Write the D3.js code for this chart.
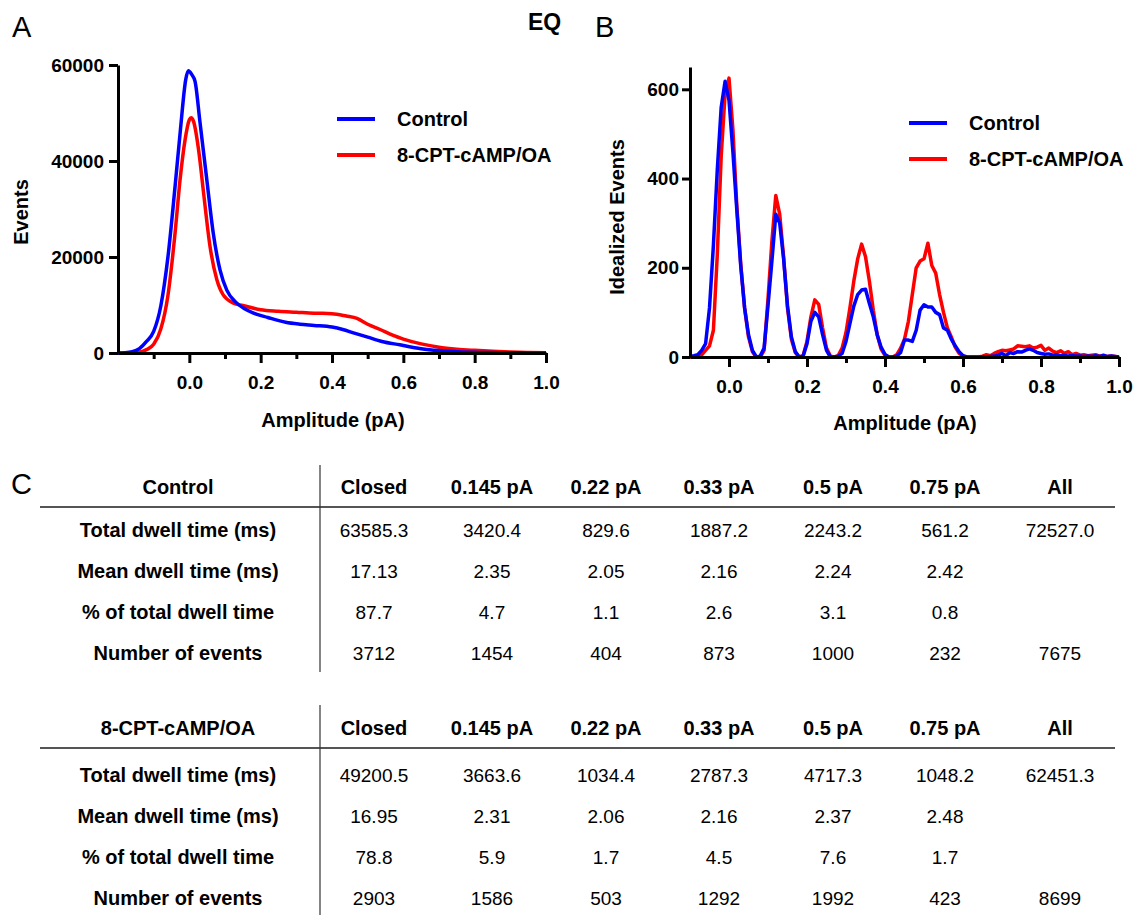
<!DOCTYPE html>
<html>
<head>
<meta charset="utf-8">
<script src="https://cdn.jsdelivr.net/npm/d3@7"></script>
<style>
  body { margin: 0; background: #fff; }
  svg { font-family: "Liberation Sans", Arial, sans-serif; display: block; }
</style>
</head>
<body>
<svg id="fig" width="1138" height="915"></svg>
<script>
// ---- Panel A: all-points amplitude histogram (amplitude pA, events) ----
const ampA_control = [-0.20, -0.18, -0.16, -0.14, -0.12, -0.10, -0.08, -0.06, -0.04, -0.025, -0.01, -0.003, 0.007, 0.016, 0.03, 0.049, 0.067, 0.086, 0.105, 0.13, 0.155, 0.18, 0.22, 0.27, 0.31, 0.35, 0.40, 0.43, 0.46, 0.50, 0.54, 0.59, 0.65, 0.70, 0.75, 0.80, 0.85, 0.90, 0.95, 1.0];
const eventsA_control = [0, 50, 250, 900, 2400, 4500, 9800, 20000, 34700, 46500, 57000, 58800, 58000, 56600, 48000, 36100, 25000, 17300, 13100, 10600, 9200, 8300, 7400, 6400, 6000, 5750, 5400, 4900, 4200, 3300, 2400, 1700, 900, 500, 250, 150, 80, 40, 20, 10];

const ampA_treated = [-0.20, -0.16, -0.14, -0.12, -0.10, -0.08, -0.06, -0.04, -0.026, -0.012, 0.0, 0.005, 0.012, 0.026, 0.04, 0.058, 0.077, 0.095, 0.124, 0.15, 0.20, 0.25, 0.30, 0.35, 0.40, 0.44, 0.47, 0.50, 0.535, 0.57, 0.60, 0.65, 0.70, 0.75, 0.80, 0.85, 0.90, 0.95, 1.0];
const eventsA_treated = [0, 0, 150, 700, 1800, 5000, 12000, 25000, 36100, 44400, 48600, 49000, 48200, 42300, 33300, 22200, 15300, 12100, 10400, 9900, 9000, 8700, 8500, 8300, 8200, 7700, 7200, 6000, 4900, 3700, 2900, 1900, 1200, 800, 550, 350, 200, 100, 50];

// ---- Panel B: idealized amplitude histogram, 0.01 pA bins ----
const binsB = [-0.10, -0.09, -0.08, -0.07, -0.06, -0.05, -0.04, -0.03, -0.02, -0.01,
  0.00, 0.01, 0.02, 0.03, 0.04, 0.05, 0.06, 0.07, 0.08, 0.09,
  0.10, 0.11, 0.12, 0.13, 0.14, 0.15, 0.16, 0.17, 0.18, 0.19,
  0.20, 0.21, 0.22, 0.23, 0.24, 0.25, 0.26, 0.27, 0.28, 0.29,
  0.30, 0.31, 0.32, 0.33, 0.34, 0.35, 0.36, 0.37, 0.38, 0.39,
  0.40, 0.41, 0.42, 0.43, 0.44, 0.45, 0.46, 0.47, 0.48, 0.49,
  0.50, 0.51, 0.52, 0.53, 0.54, 0.55, 0.56, 0.57, 0.58, 0.59,
  0.60, 0.61, 0.62, 0.63, 0.64, 0.65, 0.66, 0.67, 0.68, 0.69,
  0.70, 0.71, 0.72, 0.73, 0.74, 0.75, 0.76, 0.77, 0.78, 0.79,
  0.80, 0.81, 0.82, 0.83, 0.84, 0.85, 0.86, 0.87, 0.88, 0.89,
  0.90, 0.91, 0.92, 0.93, 0.94, 0.95, 0.96, 0.97, 0.98, 0.99, 1.00];

const idealB_control = [2, 3, 5, 15, 30, 110, 250, 420, 560, 618,
  575, 460, 330, 205, 110, 50, 15, 0, 2, 20,
  115, 215, 320, 300, 220, 115, 45, 12, 0, 2,
  30, 80, 100, 90, 50, 15, 0, 0, 2, 8,
  35, 75, 114, 140, 150, 152, 120, 90, 50, 22,
  6, 0, 0, 2, 10, 38, 38, 35, 60, 105,
  117, 112, 112, 100, 95, 65, 60, 40, 25, 12,
  3, 0, 0, 0, 0, 0, 0, 1, 2, 4,
  8, 3, 10, 8, 12, 11, 15, 18, 15, 10,
  8, 6, 7, 4, 5, 3, 4, 2, 3, 2,
  2, 1, 2, 1, 3, 1, 4, 1, 2, 1, 0];

const idealB_treated = [0, 0, 0, 5, 15, 25, 60, 230, 450, 590,
  625, 510, 340, 210, 110, 45, 12, 0, 0, 15,
  130, 260, 362, 320, 225, 110, 40, 10, 0, 3,
  35, 90, 128, 118, 65, 20, 2, 0, 3, 20,
  55, 110, 170, 220, 253, 225, 170, 105, 50, 18,
  4, 0, 0, 5, 20, 40, 80, 140, 200, 215,
  220, 255, 205, 188, 140, 100, 65, 45, 22, 8,
  2, 0, 0, 0, 0, 2, 5, 3, 8, 12,
  15, 14, 16, 18, 25, 24, 23, 25, 20, 22,
  26, 15, 20, 13, 10, 14, 8, 12, 5, 8,
  4, 5, 3, 4, 5, 2, 3, 1, 2, 1, 0];

const seriesNames = ["Control", "8-CPT-cAMP/OA"];
const seriesColors = ["#0000ff", "#ff0000"];

// ---- Panel C: dwell time tables ----
const tableColumns = ["Closed", "0.145 pA", "0.22 pA", "0.33 pA", "0.5 pA", "0.75 pA", "All"];
const tableRowLabels = ["Total dwell time (ms)", "Mean dwell time (ms)", "% of total dwell time", "Number of events"];
const controlRows = [
  ["63585.3", "3420.4", "829.6", "1887.2", "2243.2", "561.2", "72527.0"],
  ["17.13", "2.35", "2.05", "2.16", "2.24", "2.42", ""],
  ["87.7", "4.7", "1.1", "2.6", "3.1", "0.8", ""],
  ["3712", "1454", "404", "873", "1000", "232", "7675"]
];
const treatedRows = [
  ["49200.5", "3663.6", "1034.4", "2787.3", "4717.3", "1048.2", "62451.3"],
  ["16.95", "2.31", "2.06", "2.16", "2.37", "2.48", ""],
  ["78.8", "5.9", "1.7", "4.5", "7.6", "1.7", ""],
  ["2903", "1586", "503", "1292", "1992", "423", "8699"]
];

const xMajor = [0, 0.2, 0.4, 0.6, 0.8, 1.0];
const xMinorA = [-0.1, 0.1, 0.3, 0.5, 0.7, 0.9];
const xMinorB = [0.1, 0.3, 0.5, 0.7, 0.9];
const yTicksA = [0, 20000, 40000, 60000];
const yTicksB = [0, 200, 400, 600];

const svg = d3.select("#fig");

// Draw one histogram panel with axes and legend
function drawPanel(opts) {
  const g = svg.append("g");
  const x = d3.scaleLinear().domain(opts.xDomain).range(opts.xRange);
  const y = d3.scaleLinear().domain(opts.yDomain).range(opts.yRange);
  const x0 = opts.xRange[0];
  const yBase = opts.yRange[0];

  // lines: red first so blue sits on top
  const line = d3.line().x(d => x(d[0])).y(d => y(d[1])).curve(opts.curve);
  [1, 0].forEach(i => {
    const pts = opts.xs[i].map((v, k) => [v, opts.ys[i][k]]);
    g.append("path")
      .datum(pts)
      .attr("fill", "none")
      .attr("stroke", seriesColors[i])
      .attr("stroke-width", 3.5)
      .attr("stroke-linejoin", "round")
      .attr("d", line);
  });

  // x axis: major labelled ticks + minor ticks
  const xa = g.append("g").attr("transform", `translate(0,${yBase})`)
    .call(d3.axisBottom(x).tickValues(xMajor).tickFormat(d3.format(".1f"))
      .tickSize(10).tickSizeOuter(0).tickPadding(13));
  g.append("g").attr("transform", `translate(0,${yBase})`)
    .call(d3.axisBottom(x).tickValues(opts.xMinor).tickFormat("")
      .tickSize(6).tickSizeOuter(0))
    .select(".domain").remove();

  // y axis
  const ya = g.append("g").attr("transform", `translate(${x0},0)`)
    .call(d3.axisLeft(y).tickValues(opts.yTicks).tickFormat(d3.format("d"))
      .tickSize(opts.yTickSize).tickSizeOuter(0).tickPadding(opts.yPad));

  g.selectAll(".domain").attr("stroke", "#000").attr("stroke-width", 3);
  g.selectAll(".tick line").attr("stroke", "#000").attr("stroke-width", 3);
  g.selectAll(".tick text")
    .attr("fill", "#000")
    .style("font-size", "19px")
    .style("font-weight", "bold")
    .style("font-family", "'Liberation Sans', Arial, sans-serif");

  // axis titles
  g.append("text")
    .attr("x", opts.xTitle[0]).attr("y", opts.xTitle[1])
    .attr("text-anchor", "middle")
    .style("font-size", "20px").style("font-weight", "bold")
    .text("Amplitude (pA)");
  g.append("text")
    .attr("transform", `translate(${opts.yTitle[0]},${opts.yTitle[1]}) rotate(-90)`)
    .attr("text-anchor", "middle")
    .attr("dy", "0.35em")
    .style("font-size", "20px").style("font-weight", "bold")
    .text(opts.yLabel);

  // legend
  seriesNames.forEach((name, i) => {
    const ly = opts.legend[1] + i * 36;
    g.append("line")
      .attr("x1", opts.legend[0]).attr("x2", opts.legend[0] + 38)
      .attr("y1", ly).attr("y2", ly)
      .attr("stroke", seriesColors[i]).attr("stroke-width", 4);
    g.append("text")
      .attr("x", opts.legend[0] + 60).attr("y", ly)
      .attr("dy", "0.35em")
      .style("font-size", "20px").style("font-weight", "bold")
      .text(name);
  });
}

// Panel A
drawPanel({
  xDomain: [-0.2, 1.0], xRange: [118, 546],
  yDomain: [0, 60000], yRange: [353, 65],
  xs: [ampA_control, ampA_treated], ys: [eventsA_control, eventsA_treated],
  curve: d3.curveMonotoneX,
  xMinor: xMinorA, yTicks: yTicksA, yTickSize: 9, yPad: 5,
  xTitle: [333, 427], yTitle: [21, 212], yLabel: "Events",
  legend: [337, 119]
});

// Panel B
drawPanel({
  xDomain: [-0.1, 1.0], xRange: [690, 1119],
  yDomain: [0, 650], yRange: [357, 67],
  xs: [binsB, binsB], ys: [idealB_control, idealB_treated],
  curve: d3.curveLinear,
  xMinor: xMinorB, yTicks: yTicksB, yTickSize: 8, yPad: 3,
  xTitle: [905, 430], yTitle: [617, 217], yLabel: "Idealized Events",
  legend: [909, 123]
});

// panel letters and EQ tag
[["A", 12, 37], ["B", 595, 37], ["C", 11, 494]].forEach(([t, px, py]) => {
  svg.append("text").attr("x", px).attr("y", py)
    .style("font-size", "29px").text(t);
});
svg.append("text").attr("x", 528).attr("y", 30)
  .style("font-size", "23px").style("font-weight", "bold").text("EQ");

// ---- Panel C tables ----
const colX = [374, 492, 606, 719, 833, 945, 1060];
const labelX = 178;

function drawTable(title, rows, headerY, lineY, rowYs, divTop, divBottom) {
  const t = svg.append("g");
  t.append("line").attr("x1", 40).attr("x2", 1115).attr("y1", lineY).attr("y2", lineY)
    .attr("stroke", "#555").attr("stroke-width", 2);
  t.append("line").attr("x1", 320).attr("x2", 320).attr("y1", divTop).attr("y2", divBottom)
    .attr("stroke", "#333").attr("stroke-width", 1.2);

  t.append("text").attr("x", labelX).attr("y", headerY).attr("dy", "0.35em")
    .attr("text-anchor", "middle").style("font-size", "20px").style("font-weight", "bold")
    .text(title);
  t.selectAll(".colhead").data(tableColumns).enter().append("text")
    .attr("x", (d, i) => colX[i]).attr("y", headerY).attr("dy", "0.35em")
    .attr("text-anchor", "middle").style("font-size", "20px").style("font-weight", "bold")
    .text(d => d);

  rows.forEach((row, r) => {
    t.append("text").attr("x", labelX).attr("y", rowYs[r]).attr("dy", "0.35em")
      .attr("text-anchor", "middle").style("font-size", "20px").style("font-weight", "bold")
      .text(tableRowLabels[r]);
    row.forEach((v, c) => {
      t.append("text").attr("x", colX[c]).attr("y", rowYs[r]).attr("dy", "0.35em")
        .attr("text-anchor", "middle").style("font-size", "19px")
        .text(v);
    });
  });
}

drawTable("Control", controlRows, 487, 507, [530, 571, 612, 653], 465, 672);
drawTable("8-CPT-cAMP/OA", treatedRows, 728, 748, [775, 816, 857, 898], 705, 915);
</script>
</body>
</html>
